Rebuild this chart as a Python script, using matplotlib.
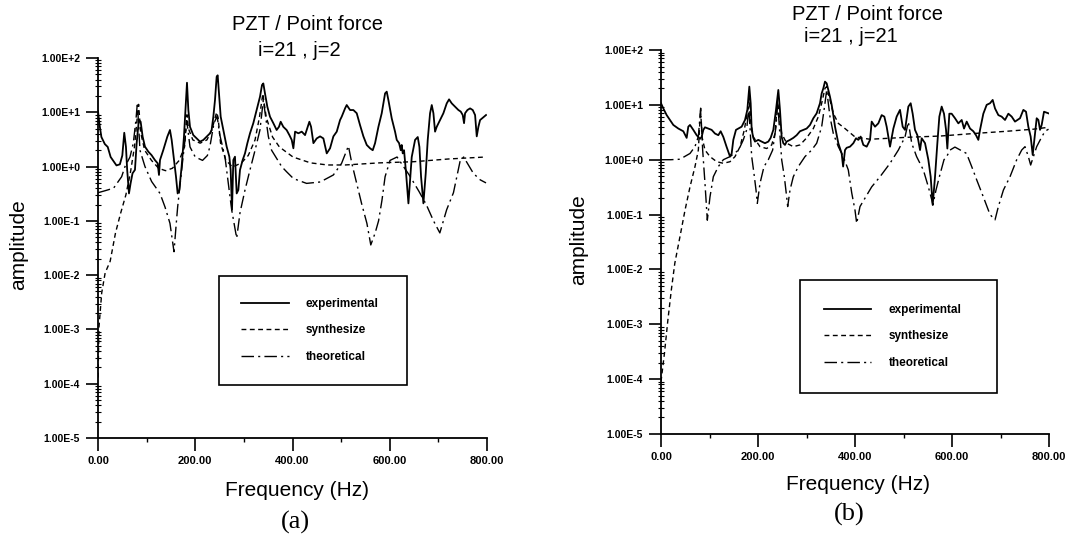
import matplotlib
matplotlib.use("Agg")
import matplotlib.pyplot as plt
from matplotlib.ticker import LogLocator, NullFormatter

plt.rcParams['font.family'] = ['Liberation Sans', 'DejaVu Sans']

# ---------------- data (frequency Hz, amplitude) ----------------
a_exp = [(0, 10.5), (3, 6.0), (7, 3.5), (14, 2.6), (20, 2.3), (26, 1.5), (32, 1.25), (38, 1.05),
         (45, 1.1), (50, 1.6), (54, 4.2), (57.5, 2.3), (60, 0.87), (63.7, 0.32), (67, 0.49),
         (71, 0.75), (76, 0.87), (79.5, 2.7), (84, 7.2), (87.7, 6.7), (91.8, 3.56), (96.6, 2.33),
         (103.5, 1.88), (110, 1.63), (117, 1.32), (122.7, 1.15), (125.4, 0.70), (127.5, 1.32),
         (134.3, 2.02), (142.6, 3.56), (148, 4.72), (151.5, 3.09), (156.3, 1.32), (160.4, 0.65),
         (163.8, 0.32), (167.2, 0.37), (172, 1.0), (176.8, 3.56), (180.3, 12.7), (183, 35),
         (185.8, 11), (189.2, 5.4), (196, 3.8), (203, 3.3), (209.7, 2.88), (216.6, 3.09),
         (223.5, 3.56), (230.3, 4.1), (233.7, 4.72), (237.2, 8.3), (240.6, 16.8), (244, 45),
         (246.1, 48), (248.8, 22.3), (252.3, 8.3), (257.7, 4.72), (264.6, 2.33), (270.1, 1.52),
         (272.8, 0.87), (275.6, 0.16), (278.3, 1.32), (281.7, 1.52), (285.2, 0.32), (288.6, 0.37),
         (292, 0.865), (297.5, 1.32), (302.3, 1.75), (307.1, 2.68), (312.6, 4.1), (319.4, 6.3),
         (326.3, 11), (333.2, 19.4), (337.3, 31.8), (340, 34), (343.4, 22.3), (348.2, 12.7),
         (353.7, 8.3), (360.6, 6.3), (367.4, 4.72), (372.2, 5.4), (375.7, 6.7), (381.1, 5.4),
         (388, 4.7), (393.6, 3.8), (398.4, 3.1), (401.8, 2.17), (405.3, 4.4), (412.1, 4.1),
         (419, 4.4), (425.8, 3.8), (434.7, 6.7), (438.2, 5.4), (443, 2.7), (449.8, 3.3),
         (456.7, 3.6), (463.5, 3.3), (470.4, 1.75), (477.2, 2.17), (484.1, 3.6), (491, 4.4),
         (497.8, 7.2), (501.2, 8.3), (508.1, 11.8), (511.5, 13.6), (518.4, 11), (525.2, 11),
         (532.1, 9.6), (538.9, 5.8), (545.8, 3.6), (552.7, 2.5), (559.5, 2.17), (565, 2.0),
         (569.8, 2.7), (576.7, 5.4), (583.5, 9.6), (590.4, 22.3), (593.8, 24), (597.2, 16.8),
         (604.1, 7.7), (610.9, 4.4), (614.4, 3.1), (619.2, 2.7), (622.6, 2.0), (624.6, 2.5),
         (626.7, 1.75), (629.4, 2.0), (633.6, 0.75), (638.4, 0.21), (641.8, 0.57), (645.2, 1.5),
         (652.1, 3.1), (657.6, 3.5), (661, 2.3), (664.4, 0.65), (669.2, 0.21), (674, 0.75),
         (678.1, 3.1), (682.9, 9.6), (686.4, 13.6), (689.8, 9.6), (693.2, 4.4), (696.6, 5.4),
         (703.5, 7.2), (710.3, 9.6), (717.2, 14.6), (722, 17.3), (727.5, 14.6), (734.3, 12.7),
         (741.2, 11), (746, 10.3), (750.1, 8.9), (752.8, 6.3), (754.9, 9.6), (759.7, 11),
         (765.2, 11.8), (770.7, 11), (775.5, 8.9), (778.9, 3.6), (782.3, 5.4), (785.8, 7.2),
         (792, 8.0), (798, 8.9)]

a_syn = [(0, 1.3e-4), (2, 1.1e-3), (7.6, 4.7e-3), (14.7, 0.011), (25, 0.018), (36, 0.06),
         (46.7, 0.14), (57.3, 0.3), (66.5, 0.76), (75, 2.3), (80.7, 8.1), (83.5, 14), (87.8, 4.2),
         (96, 2.0), (110, 1.3), (124.7, 0.93), (138.9, 0.84), (153, 0.93), (167, 1.3), (178, 2.3),
         (183, 9), (186, 5), (195, 3.1), (210, 2.7), (224, 3.1), (234, 4.7), (244, 10), (247, 8),
         (252, 2.7), (263, 1.3), (277, 0.98), (295, 1.17), (309, 1.6), (323, 3.1), (332, 8.1),
         (339, 22), (346, 8.1), (359, 3.5), (373, 2.3), (401, 1.5), (437, 1.17), (472, 1.07),
         (508, 1.07), (579, 1.17), (650, 1.23), (721, 1.38), (797, 1.5)]

a_the = [(0, 0.33), (15, 0.36), (32, 0.40), (48.6, 0.65), (55.5, 1.0), (65.8, 1.5), (72.6, 2.7),
         (78, 7.2), (81, 15), (86.3, 2.0), (96.6, 1.0), (110.3, 0.53), (127.5, 0.32), (137.8, 0.18),
         (148, 0.09), (156.3, 0.027), (160.4, 0.078), (163.8, 0.18), (172, 0.86), (178.9, 3.1),
         (182.5, 7), (189.2, 2.3), (200, 1.5), (215, 1.3), (225, 1.6), (230, 2.3), (238.5, 6.3),
         (245, 8.5), (250, 4), (261.2, 1.5), (268, 0.49), (274.9, 0.16), (285.2, 0.048),
         (292, 0.14), (302.3, 0.37), (312.6, 0.87), (323, 2.0), (333, 4.7), (340, 16.8),
         (350.3, 3.6), (357, 2.0), (377.7, 1.0), (388, 0.8), (402, 0.6), (429, 0.49), (457, 0.52),
         (484, 0.70), (501, 1.15), (515, 2.4), (522, 1.15), (532, 0.49), (542, 0.21), (553, 0.09),
         (561, 0.036), (570, 0.06), (577, 0.10), (584, 0.24), (590.4, 0.65), (600.6, 1.3),
         (615, 1.5), (640, 0.7), (660, 0.35), (675, 0.2), (690, 0.1), (703, 0.06), (717, 0.16),
         (731, 0.33), (745, 1.3), (752, 1.5), (772, 0.75), (786, 0.57), (798, 0.5)]

b_exp = [(0, 10.7), (4.8, 8.6), (11.7, 6.5), (18.5, 5.3), (25.4, 4.3), (35.7, 3.7), (46, 3.3),
         (52.9, 2.5), (56.3, 4.0), (59.8, 4.3), (66.6, 3.5), (73.5, 2.8), (80.4, 2.4), (83.8, 2.6),
         (87.3, 3.5), (90.7, 3.9), (97.6, 3.7), (104.4, 3.5), (111.3, 3.0), (118.2, 2.8),
         (123, 3.3), (128.5, 2.6), (135.4, 1.7), (142.3, 1.14), (145.7, 1.3), (149.1, 2.3),
         (154.6, 3.5), (159.4, 3.7), (166.3, 4.0), (173.2, 5.3), (178, 8.1), (182.1, 21.5),
         (184.9, 10.7), (187, 3.5), (190.4, 2.5), (193.8, 2.14), (200.7, 2.3), (207.5, 2.14),
         (214.4, 2.0), (221.3, 2.14), (226.1, 2.5), (231.6, 3.5), (237.1, 8.1), (241.9, 18.7),
         (245.3, 8.1), (248.8, 2.6), (252.2, 2.0), (255.6, 1.86), (259.1, 2.14), (266, 2.3),
         (272.8, 2.5), (279.7, 2.8), (286.6, 3.3), (293.5, 3.5), (300.3, 3.7), (307.2, 4.3),
         (314.1, 5.7), (320.9, 7.0), (327.8, 10.7), (331.3, 16.2), (334.7, 20), (338.1, 26.5),
         (341.6, 24.7), (345, 18.7), (348.4, 14.1), (351.9, 10), (355.3, 6.5), (358.8, 4.0),
         (365.6, 2.0), (369.1, 1.6), (372.5, 1.3), (375.5, 0.75), (379.4, 1.5), (382.8, 1.65),
         (389.7, 1.73), (396.6, 2.0), (402.1, 2.46), (406.9, 2.3), (411.7, 2.64), (417.2, 1.86),
         (424.1, 1.73), (431, 2.3), (434.4, 4.95), (441.3, 4.0), (448.1, 4.6), (455, 6.5),
         (460.5, 6.1), (465.3, 4.0), (472.2, 1.73), (479.1, 3.7), (485.9, 6.1), (492.8, 8.1),
         (498.3, 4.0), (503.1, 3.5), (510, 9.3), (514.8, 10.7), (518.9, 6.9), (523.7, 3.5),
         (528.6, 2.8), (534.1, 1.5), (537.5, 2.46), (544.4, 2.0), (551.2, 1.0), (556, 0.49),
         (560.2, 0.15), (565, 0.49), (569.8, 2.0), (573.9, 6.1), (578.7, 9.3), (583.5, 6.9),
         (587.7, 3.5), (590.4, 1.6), (594.5, 6.9), (599.3, 6.9), (606.2, 5.7), (613.1, 4.6),
         (620, 5.3), (624.8, 3.7), (630.3, 4.95), (637.2, 3.7), (644, 3.3), (649.5, 2.8),
         (654.3, 2.3), (657.8, 3.5), (664.6, 6.9), (671.5, 10), (678.4, 10.7), (683.9, 12.3),
         (688.7, 8.6), (695.6, 6.5), (702.4, 6.1), (709.3, 5.3), (716.2, 6.9), (723.1, 6.1),
         (729.9, 4.95), (740.2, 5.7), (747.1, 8.1), (752.6, 7.5), (757.4, 4.0), (762.2, 2.64),
         (766.4, 1.22), (771.2, 3.0), (774.6, 5.7), (778.1, 5.3), (781.5, 3.5), (784.9, 4.3),
         (789.7, 7.5), (799, 7.0)]

b_syn = [(0, 9e-5), (7.2, 3.0e-4), (14.2, 1.2e-3), (21.4, 4.3e-3), (28.5, 0.013), (39.2, 0.04),
         (49.5, 0.12), (59.8, 0.32), (70.1, 0.75), (77, 1.5), (81.5, 8), (85, 2.5), (90.7, 1.5),
         (101, 1.14), (114.8, 0.92), (128.5, 0.86), (142.3, 0.92), (152.6, 1.14), (163, 1.73),
         (171.8, 3.5), (178.7, 8.1), (182, 13), (185, 5), (190.4, 2.6), (204.1, 1.73), (217.9, 1.6),
         (228.2, 1.86), (235, 3.0), (240.5, 12), (244, 6), (248.8, 3.0), (259.1, 2.0), (272.8, 1.73),
         (286.6, 1.86), (300.3, 2.5), (314.1, 3.7), (324.4, 6.1), (331.3, 10.7), (338.1, 20),
         (341.6, 21.5), (348.4, 12.3), (355.3, 7), (365.6, 4.6), (379.4, 3.7), (400, 2.6),
         (430.9, 2.36), (506.6, 2.56), (575.3, 2.7), (644, 3.0), (712.8, 3.3), (767.7, 3.6),
         (799, 3.9)]

b_the = [(0, 1.0), (20, 1.0), (39, 1.02), (59.8, 1.3), (70, 1.73), (77, 2.64), (81.8, 8.7),
         (85.9, 1.5), (90.7, 0.37), (95.5, 0.079), (101, 0.21), (107.9, 0.49), (118.2, 0.75),
         (128.5, 1.0), (142.3, 1.14), (160, 1.5), (169.7, 2.3), (176.6, 3.5), (181, 9), (187, 1.14),
         (191.7, 0.56), (195.9, 0.28), (198.6, 0.16), (204.1, 0.37), (212.4, 0.75), (221.3, 1.0),
         (230.2, 1.5), (237.1, 4.0), (240.5, 11), (248.8, 1.0), (254.3, 0.49), (259.1, 0.21),
         (261.2, 0.14), (266, 0.28), (272.8, 0.49), (283.1, 0.75), (296.9, 1.14), (310.6, 1.5),
         (321, 2.0), (331.3, 4.0), (338.1, 10.7), (341.6, 18.7), (348.4, 6.1), (355.3, 3.0),
         (365.6, 1.73), (375.9, 1.14), (386.2, 0.65), (393.2, 0.25), (400, 0.12), (403.5, 0.069),
         (410.3, 0.14), (434.4, 0.32), (451.6, 0.49), (472.2, 0.86), (489.4, 1.5), (503.1, 2.6),
         (510, 4.9), (516.9, 2.0), (527, 1.14), (540.9, 0.65), (551.2, 0.32), (558, 0.19),
         (560.5, 0.15), (567, 0.28), (574, 0.49), (583.5, 1.0), (589, 1.14), (596, 1.5), (606, 1.7),
         (630, 1.3), (640.6, 0.75), (650.9, 0.43), (664.6, 0.21), (678.4, 0.1), (688.7, 0.08),
         (695.6, 0.14), (706, 0.28), (719.6, 0.49), (733.4, 1.0), (743.7, 1.5), (750.5, 1.73),
         (757.4, 1.14), (762.2, 0.8), (774.6, 1.73), (785, 2.6), (791.8, 3.3), (799, 3.6)]

series_labels = ["experimental", "synthesize", "theoretical"]
titles_a = ["PZT / Point force", "i=21 , j=2"]
titles_b = ["PZT / Point force", "i=21 , j=21"]
x_tick_values = [0, 200, 400, 600, 800]
x_tick_labels = ["0.00", "200.00", "400.00", "600.00", "800.00"]
x_minor_values = [100, 300, 500, 700]
y_tick_values = [1e-5, 1e-4, 1e-3, 1e-2, 1e-1, 1e0, 1e1, 1e2]
y_tick_labels = ["1.00E-5", "1.00E-4", "1.00E-3", "1.00E-2", "1.00E-1", "1.00E+0", "1.00E+1", "1.00E+2"]

# ---------------- figure ----------------
W, H = 1067, 537
fig = plt.figure(figsize=(W / 100, H / 100), dpi=100)
fig.patch.set_facecolor("white")


def fx(px):
    return px / W


def fy(py):
    return 1 - py / H


ax_a = fig.add_axes([fx(98), fy(438), 389 / W, 380 / H])
ax_b = fig.add_axes([fx(661), fy(434), 388 / W, 384 / H])

EXP_STYLE = dict(color="black", lw=1.3, linestyle="-")
SYN_STYLE = dict(color="black", lw=1.0, linestyle=(0, (3.5, 2.5)))
THE_STYLE = dict(color="black", lw=1.0, linestyle=(0, (9, 3, 1.5, 3)))


def draw(ax, exp, syn, the):
    lt, = ax.plot([p[0] for p in the], [p[1] for p in the], **THE_STYLE, label=series_labels[2])
    ls, = ax.plot([p[0] for p in syn], [p[1] for p in syn], **SYN_STYLE, label=series_labels[1])
    le, = ax.plot([p[0] for p in exp], [p[1] for p in exp], **EXP_STYLE, label=series_labels[0])
    ax.set_yscale("log")
    ax.set_xlim(0, 800)
    ax.set_ylim(1e-5, 1e2)
    for s in ("top", "right"):
        ax.spines[s].set_visible(False)
    for s in ("left", "bottom"):
        ax.spines[s].set_linewidth(1.3)
    ax.set_xticks(x_tick_values)
    ax.set_xticklabels(x_tick_labels, fontsize=8, fontweight="bold")
    ax.set_xticks(x_minor_values, minor=True)
    ax.set_yticks(y_tick_values)
    ax.set_yticklabels(y_tick_labels, fontsize=7.5, fontweight="bold")
    ax.yaxis.set_minor_locator(LogLocator(base=10, subs=range(2, 10), numticks=100))
    ax.yaxis.set_minor_formatter(NullFormatter())
    ax.tick_params(axis="both", which="major", direction="out", length=9, width=1.2, pad=4)
    ax.tick_params(axis="x", which="minor", direction="out", length=3, width=1.0)
    ax.tick_params(axis="y", which="minor", direction="inout", length=5, width=0.8)
    return le, ls, lt


handles_a = draw(ax_a, a_exp, a_syn, a_the)
handles_b = draw(ax_b, b_exp, b_syn, b_the)


def add_legend(ax, handles, box, lspace, bpad):
    x0, x1, y0, y1 = box
    leg = ax.legend(handles=list(handles), loc="center",
                    bbox_to_anchor=(fx(x0), fy(y1), (x1 - x0) / W, (y1 - y0) / H),
                    bbox_transform=fig.transFigure, mode="expand", borderaxespad=0,
                    frameon=True, fancybox=False, edgecolor="black", framealpha=1,
                    borderpad=bpad, labelspacing=lspace, handlelength=4.0,
                    handletextpad=1.45,
                    prop={"family": "Liberation Sans", "weight": "bold", "size": 8.5})
    leg.get_frame().set_linewidth(1.2)
    return leg


add_legend(ax_a, handles_a, (219, 407, 273, 388), 1.2, 1.9)
add_legend(ax_b, handles_b, (800, 997, 276, 397), 1.25, 2.05)

# titles
fig.text(fx(307), fy(25), titles_a[0], ha="center", va="center", fontsize=14.5)
fig.text(fx(299), fy(51), titles_a[1], ha="center", va="center", fontsize=14.5)
fig.text(fx(867), fy(14), titles_b[0], ha="center", va="center", fontsize=14.5)
fig.text(fx(851), fy(37), titles_b[1], ha="center", va="center", fontsize=14.5)

# axis labels
fig.text(fx(297), fy(490), "Frequency (Hz)", ha="center", va="center", fontsize=15)
fig.text(fx(858), fy(484), "Frequency (Hz)", ha="center", va="center", fontsize=15)
fig.text(fx(19), fy(245), "amplitude", ha="center", va="center", rotation=90, fontsize=15)
fig.text(fx(579), fy(240), "amplitude", ha="center", va="center", rotation=90, fontsize=15)

# panel labels
fig.text(fx(295), fy(522), "(a)", ha="center", va="center", fontsize=19,
         family=["Liberation Serif", "DejaVu Serif"])
fig.text(fx(849), fy(514), "(b)", ha="center", va="center", fontsize=19,
         family=["Liberation Serif", "DejaVu Serif"])

fig.savefig("out.png", dpi=100)
